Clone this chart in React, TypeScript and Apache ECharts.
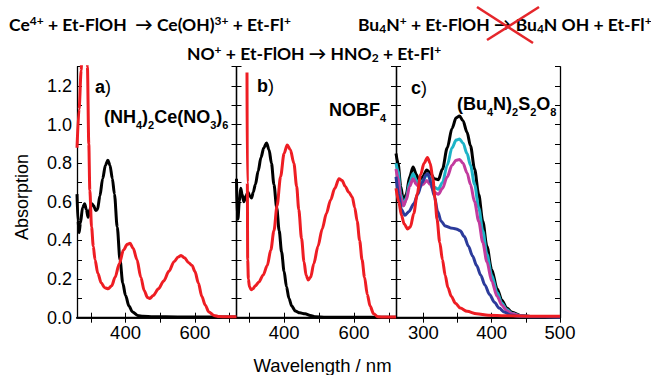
import React, { useEffect, useRef } from 'react';
import * as echarts from 'echarts';

const AX_FONT = 'Liberation Sans, Arial, Helvetica, sans-serif';
const HEAD_FONT = 'Lato, Liberation Sans, sans-serif';

// x-axis ranges (nm) and tick / label values
const xRangeA = [260, 720];
const xRangeB = [264, 720];
const xRangeC = [260, 500];
const xTicksAB = [300, 400, 500, 600, 700];
const xLabelsAB = [400, 600];
const xTicksC = [300, 350, 400, 450, 500];
const xLabelsC = [300, 400, 500];
const yRange = [0, 1.3];

// Panel a) (NH4)2Ce(NO3)6
const aBlack: number[][] = [
  [260, 0.64], [263, 0.5], [266, 0.44], [270, 0.49], [276, 0.57], [282, 0.59], [287, 0.56], [292, 0.52],
  [297, 0.56], [303, 0.59], [308, 0.58], [314, 0.555], [319, 0.56], [326, 0.63], [334, 0.72], [342, 0.79],
  [349, 0.815], [355, 0.79], [362, 0.72], [368, 0.64], [376, 0.47], [384, 0.3], [392, 0.18], [400, 0.115],
  [410, 0.06], [420, 0.03], [435, 0.012], [450, 0.007], [480, 0.005], [550, 0.004], [650, 0.003], [720, 0.003],
];
const aRed: number[][] = [
  [260, 0.88], [266, 1.08], [272, 1.28], [278, 1.8], [286, 1.8], [290, 1.3], [294, 0.9], [297, 0.66],
  [302, 0.47], [307, 0.37], [312, 0.3], [320, 0.23], [330, 0.18], [340, 0.155], [350, 0.15], [360, 0.165],
  [370, 0.21], [382, 0.28], [394, 0.35], [405, 0.38], [413, 0.385], [422, 0.36], [433, 0.3], [444, 0.21],
  [454, 0.14], [463, 0.105], [470, 0.1], [480, 0.115], [495, 0.15], [510, 0.19], [525, 0.24], [540, 0.29],
  [552, 0.315], [560, 0.322], [570, 0.31], [582, 0.285], [592, 0.27], [600, 0.24], [610, 0.18], [620, 0.11],
  [630, 0.065], [640, 0.03], [655, 0.012], [670, 0.006], [690, 0.005], [720, 0.005],
];

// Panel b) NOBF4
const bBlack: number[][] = [
  [264, 0.72], [266, 0.52], [268, 0.51], [272, 0.6], [276, 0.67], [280, 0.64], [285, 0.6], [291, 0.63],
  [297, 0.65], [302, 0.63], [307, 0.62], [312, 0.65], [318, 0.69], [326, 0.76], [334, 0.83], [342, 0.88],
  [350, 0.905], [357, 0.87], [364, 0.8], [371, 0.69], [379, 0.57], [386, 0.45], [393, 0.34], [400, 0.24],
  [407, 0.16], [414, 0.1], [422, 0.06], [432, 0.035], [445, 0.025], [460, 0.02], [475, 0.012], [490, 0.005],
  [520, 0.002], [720, 0.002],
];
const bRed: number[][] = [
  [294, 1.27], [295, 0.7], [296, 0.3], [298, 0.2], [301, 0.16], [306, 0.145], [311, 0.15], [318, 0.165],
  [328, 0.185], [340, 0.22], [352, 0.27], [362, 0.35], [371, 0.45], [380, 0.58], [390, 0.73], [400, 0.85],
  [409, 0.895], [418, 0.87], [428, 0.8], [436, 0.68], [442, 0.56], [450, 0.41], [457, 0.29], [463, 0.22],
  [469, 0.195], [476, 0.21], [485, 0.28], [497, 0.37], [509, 0.46], [521, 0.54], [533, 0.61], [545, 0.67],
  [557, 0.72], [566, 0.71], [575, 0.68], [585, 0.65], [595, 0.625], [602, 0.57], [609, 0.5], [616, 0.4],
  [623, 0.3], [630, 0.21], [638, 0.12], [646, 0.06], [656, 0.02], [668, 0.005], [690, 0.003], [720, 0.003],
];

// Panel c) (Bu4N)2S2O8
const cBlack: number[][] = [
  [260, 0.85], [263, 0.8], [267, 0.68], [271, 0.6], [275, 0.64], [280, 0.73], [285, 0.78], [290, 0.74],
  [294, 0.7], [299, 0.73], [305, 0.765], [310, 0.75], [316, 0.72], [322, 0.715], [328, 0.77], [335, 0.88],
  [342, 0.98], [348, 1.035], [353, 1.045], [358, 1.02], [364, 0.96], [369, 0.89], [375, 0.77], [381, 0.64],
  [387, 0.5], [393, 0.37], [400, 0.25], [408, 0.15], [415, 0.09], [422, 0.05], [430, 0.028], [442, 0.012],
  [460, 0.006], [500, 0.005],
];
const cCyan: number[][] = [
  [260, 0.8], [263, 0.76], [267, 0.64], [271, 0.58], [275, 0.62], [280, 0.7], [285, 0.745], [290, 0.71],
  [294, 0.685], [299, 0.71], [305, 0.74], [310, 0.725], [316, 0.675], [322, 0.665], [328, 0.7], [335, 0.79],
  [342, 0.88], [348, 0.92], [353, 0.925], [358, 0.905], [364, 0.85], [369, 0.79], [375, 0.69], [381, 0.57],
  [387, 0.45], [393, 0.33], [400, 0.22], [408, 0.13], [415, 0.075], [422, 0.042], [430, 0.022], [442, 0.01],
  [460, 0.006], [500, 0.005],
];
const cMagenta: number[][] = [
  [260, 0.77], [263, 0.72], [267, 0.62], [271, 0.58], [275, 0.61], [280, 0.68], [285, 0.72], [290, 0.69],
  [294, 0.675], [299, 0.69], [305, 0.71], [310, 0.69], [316, 0.65], [322, 0.64], [328, 0.67], [335, 0.73],
  [342, 0.79], [348, 0.815], [353, 0.82], [358, 0.8], [364, 0.75], [369, 0.69], [375, 0.6], [381, 0.5],
  [387, 0.39], [393, 0.29], [400, 0.19], [408, 0.11], [415, 0.065], [422, 0.036], [430, 0.02], [442, 0.009],
  [460, 0.006], [500, 0.005],
];
const cBlue: number[][] = [
  [260, 0.73], [264, 0.64], [268, 0.56], [273, 0.53], [279, 0.55], [286, 0.59], [292, 0.64], [298, 0.7],
  [304, 0.74], [307, 0.745], [311, 0.7], [316, 0.63], [321, 0.55], [326, 0.5], [332, 0.475], [340, 0.465],
  [348, 0.46], [354, 0.45], [360, 0.42], [366, 0.37], [372, 0.32], [378, 0.27], [384, 0.22], [390, 0.17],
  [397, 0.12], [404, 0.08], [411, 0.05], [418, 0.03], [428, 0.014], [440, 0.007], [460, 0.005], [500, 0.004],
];
const cRed: number[][] = [
  [260, 0.67], [264, 0.6], [268, 0.53], [272, 0.485], [277, 0.46], [281, 0.47], [286, 0.54], [291, 0.64],
  [296, 0.74], [301, 0.8], [306, 0.83], [310, 0.8], [314, 0.72], [317, 0.62], [320, 0.51], [324, 0.39],
  [328, 0.3], [332, 0.22], [336, 0.155], [341, 0.11], [347, 0.075], [354, 0.05], [364, 0.033], [378, 0.02],
  [395, 0.013], [420, 0.01], [460, 0.008], [500, 0.008],
];

const BLACK = '#000000';
const RED = '#ee1d23';
const CYAN = '#1db3c7';
const MAGENTA = '#c23b9e';
const BLUE = '#2c3b9b';

const GRID_TOP = 66.7;
const GRID_H = 251;
const gridBoxes = [
  { left: 77, width: 159.5 },
  { left: 236.5, width: 159.5 },
  { left: 396, width: 164 },
];

function buildOption() {
  const grid = gridBoxes.map((g) => ({
    left: g.left, top: GRID_TOP, width: g.width, height: GRID_H,
    show: false, containLabel: false,
  }));
  const ranges = [xRangeA, xRangeB, xRangeC];
  const ticks = [xTicksAB, xTicksAB, xTicksC];
  const labels = [xLabelsAB, xLabelsAB, xLabelsC];
  const xAxis: any[] = [];
  const yAxis: any[] = [];
  for (let i = 0; i < 3; i++) {
    xAxis.push({
      type: 'value', gridIndex: i, position: 'bottom', min: ranges[i][0], max: ranges[i][1],
      axisLine: { show: true, lineStyle: { color: '#111', width: 2 } },
      axisTick: { show: true, inside: true, length: 5, customValues: ticks[i], lineStyle: { color: BLACK, width: 1 } },
      axisLabel: { show: true, customValues: labels[i], color: BLACK, fontSize: 18.5, fontFamily: AX_FONT, margin: 5 },
      splitLine: { show: false },
    });
    xAxis.push({
      type: 'value', gridIndex: i, position: 'top', min: ranges[i][0], max: ranges[i][1],
      axisLine: { show: true, lineStyle: { color: BLACK, width: 1.3 } },
      axisTick: { show: true, inside: true, length: 5, customValues: ticks[i], lineStyle: { color: BLACK, width: 1 } },
      axisLabel: { show: false },
      splitLine: { show: false },
    });
    yAxis.push({
      type: 'value', gridIndex: i, position: 'left', min: yRange[0], max: yRange[1], interval: 0.1,
      axisLine: { show: true, lineStyle: { color: BLACK, width: 1.3 } },
      axisTick: { show: true, inside: true, length: 5, lineStyle: { color: BLACK, width: 1 } },
      axisLabel: {
        show: i === 0, color: BLACK, fontSize: 18, fontFamily: AX_FONT, margin: 5,
        formatter: (v: number) => (Math.round(v * 10) % 2 === 0 ? v.toFixed(1) : ''),
      },
      splitLine: { show: false },
    });
    yAxis.push({
      type: 'value', gridIndex: i, position: 'right', min: yRange[0], max: yRange[1], interval: 0.1,
      axisLine: { show: true, lineStyle: { color: BLACK, width: 1.3 } },
      axisTick: { show: true, inside: true, length: 5, lineStyle: { color: BLACK, width: 1 } },
      axisLabel: { show: false },
      splitLine: { show: false },
    });
  }
  const mk = (data: number[][], color: string, gi: number, name: string, width = 3) => ({
    type: 'line', name, data, xAxisIndex: gi * 2, yAxisIndex: gi * 2,
    showSymbol: false, symbol: 'none', smooth: 0.3, smoothMonotone: 'x', clip: true,
    lineStyle: { color, width }, itemStyle: { color },
  });
  const series = [
    mk(aBlack, BLACK, 0, 'a-black'),
    mk(aRed, RED, 0, 'a-red'),
    mk(bBlack, BLACK, 1, 'b-black'),
    mk(bRed, RED, 1, 'b-red'),
    mk(cBlack, BLACK, 2, 'c-black'),
    mk(cCyan, CYAN, 2, 'c-cyan'),
    mk(cMagenta, MAGENTA, 2, 'c-magenta'),
    mk(cBlue, BLUE, 2, 'c-blue'),
    mk(cRed, RED, 2, 'c-red'),
  ];

  const hN = { fontSize: 17.5, fontWeight: 'bold', fontFamily: HEAD_FONT, color: BLACK, lineHeight: 20 };
  const hSup = { fontSize: 12, fontWeight: 'bold', fontFamily: HEAD_FONT, color: BLACK, lineHeight: 12, verticalAlign: 'top' };
  const hSub = { fontSize: 12, fontWeight: 'bold', fontFamily: HEAD_FONT, color: BLACK, lineHeight: 12, verticalAlign: 'bottom' };
  const headRich = { n: hN, sup: hSup, sub: hSub };

  const pN = { fontSize: 18, fontWeight: 'bold', fontFamily: AX_FONT, color: BLACK, lineHeight: 26 };
  const pSub = { fontSize: 11, fontWeight: 'bold', fontFamily: AX_FONT, color: BLACK, lineHeight: 10, verticalAlign: 'bottom' };
  const pP = { fontSize: 18, fontWeight: 'normal', fontFamily: AX_FONT, color: BLACK, lineHeight: 26 };
  const panelRich = { n: pN, sub: pSub, p: pP };

  const text = (x: number, y: number, t: string, rich: any, align = 'left') => ({
    type: 'text', x, y, z: 100,
    style: { text: t, rich, textAlign: align, textVerticalAlign: 'middle' },
  });

  const graphic = [
    text(9, 24, '{n|Ce}{sup|4+}{n| + Et-FlOH  → Ce(OH)}{sup|3+}{n| + Et-Fl}{sup|+}', headRich),
    text(358, 24, '{n|Bu}{sub|4}{n|N}{sup|+}{n| + Et-FlOH → Bu}{sub|4}{n|N OH + Et-Fl}{sup|+}', headRich),
    text(187, 53, '{n|NO}{sup|+}{n| + Et-FlOH → HNO}{sub|2}{n| + Et-Fl}{sup|+}', headRich),
    { type: 'line', z: 110, shape: { x1: 477, y1: 7, x2: 533, y2: 43 }, style: { stroke: '#e5262b', lineWidth: 2.5 } },
    { type: 'line', z: 110, shape: { x1: 487, y1: 40, x2: 539, y2: 7 }, style: { stroke: '#e5262b', lineWidth: 2.5 } },
    text(95, 86.5, '{n|a}{p|)}', panelRich),
    text(104, 117, '{n|(NH}{sub|4}{n|)}{sub|2}{n|Ce(NO}{sub|3}{n|)}{sub|6}', panelRich),
    text(257, 86, '{n|b}{p|)}', panelRich),
    text(329, 110, '{n|NOBF}{sub|4}', panelRich),
    text(411, 88, '{n|c}{p|)}', panelRich),
    text(457, 104, '{n|(Bu}{sub|4}{n|N)}{sub|2}{n|S}{sub|2}{n|O}{sub|8}', panelRich),
    {
      type: 'text', x: 21.5, y: 197, rotation: Math.PI / 2, z: 100,
      style: { text: 'Absorption', fontSize: 18, fontFamily: AX_FONT, fill: BLACK, textAlign: 'center', textVerticalAlign: 'middle' },
    },
    {
      type: 'text', x: 322.5, y: 365, z: 100,
      style: { text: 'Wavelength / nm', fontSize: 18.5, fontFamily: AX_FONT, fill: BLACK, textAlign: 'center', textVerticalAlign: 'middle' },
    },
  ];

  return { animation: false, backgroundColor: '#ffffff', grid, xAxis, yAxis, series, graphic };
}

export default function App() {
  const ref = useRef<HTMLDivElement>(null);
  useEffect(() => {
    if (!ref.current) return;
    const chart = echarts.init(ref.current, null, { renderer: 'svg' });
    chart.setOption(buildOption() as any);
    return () => chart.dispose();
  }, []);
  return (
    <div
      ref={ref}
      style={{ position: 'absolute', left: 0, top: 0, width: 651, height: 375, background: '#ffffff' }}
    />
  );
}
